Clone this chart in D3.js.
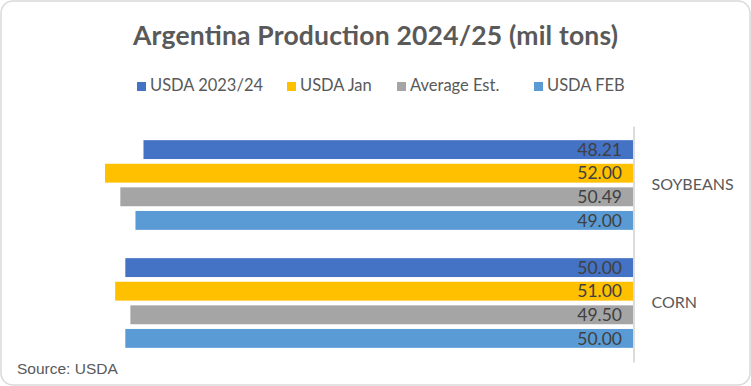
<!DOCTYPE html>
<html>
<head>
<meta charset="utf-8">
<script src="https://cdn.jsdelivr.net/npm/d3@7"></script>
<style>
  body { margin: 0; background: #fff; }
  svg { display: block; font-family: Lato, "Open Sans", sans-serif; }
</style>
</head>
<body>
<div id="chart"></div>
<script>
// Chart data
const categories = ['SOYBEANS', 'CORN'];
const seriesNames = ['USDA 2023/24', 'USDA Jan', 'Average Est.', 'USDA FEB'];
const seriesColors = ['#4472C4', '#FFC000', '#A5A5A5', '#5B9BD5'];
const soybeanValues = [48.21, 52.00, 50.49, 49.00];
const cornValues = [50.00, 51.00, 49.50, 50.00];
const valuesByCategory = [soybeanValues, cornValues];

const W = 751, H = 386;
const PLOT = { LEFT: 105, RIGHT: 633, TOP: 126, BOTTOM: 362 };

const svg = d3.select('#chart')
  .append('svg')
  .attr('width', W)
  .attr('height', H);

// Outer frame
svg.append('rect')
  .attr('x', 1).attr('y', 1)
  .attr('width', W - 2).attr('height', H - 2)
  .attr('rx', 12)
  .attr('fill', '#fff')
  .attr('stroke', '#d9d9d9')
  .attr('stroke-width', 1.5);

// Title
svg.append('text')
  .attr('x', 375.5)
  .attr('y', 45)
  .attr('text-anchor', 'middle')
  .attr('font-size', 26.5)
  .attr('font-weight', 'bold')
  .attr('fill', '#595959')
  .attr('textLength', 485)
  .attr('lengthAdjust', 'spacing')
  .text('Argentina Production 2024/25 (mil tons)');

// Legend
const legendX = [137, 287, 397, 534];
const legend = svg.append('g');
seriesNames.forEach(function(name, i) {
  legend.append('rect')
    .attr('x', legendX[i])
    .attr('y', 82)
    .attr('width', 9)
    .attr('height', 9)
    .attr('fill', seriesColors[i]);
  legend.append('text')
    .attr('x', legendX[i] + 13)
    .attr('y', 91)
    .attr('font-size', 16.5)
    .attr('fill', '#595959')
    .text(name);
});

// Scales: bars grow leftwards from the axis on the right
const x = d3.scaleLinear()
  .domain([0, 52])
  .range([PLOT.RIGHT, PLOT.LEFT]);

const y0 = d3.scaleBand()
  .domain(categories)
  .range([PLOT.TOP, PLOT.BOTTOM])
  .paddingInner(0.24)
  .paddingOuter(0.12);

const y1 = d3.scaleBand()
  .domain(d3.range(seriesNames.length))
  .range([0, y0.bandwidth()])
  .paddingInner(0.2);

const groups = svg.append('g')
  .selectAll('g')
  .data(categories)
  .enter()
  .append('g')
  .attr('transform', d => `translate(0, ${y0(d)})`);

groups.selectAll('rect')
  .data((d, i) => valuesByCategory[i])
  .enter()
  .append('rect')
  .attr('x', d => x(d))
  .attr('y', (d, i) => y1(i))
  .attr('width', d => x(0) - x(d))
  .attr('height', y1.bandwidth())
  .attr('fill', (d, i) => seriesColors[i]);

// Value labels inside the bar ends
groups.selectAll('text')
  .data((d, i) => valuesByCategory[i])
  .enter()
  .append('text')
  .attr('x', x(0) - 11)
  .attr('y', (d, i) => y1(i) + y1.bandwidth() / 2)
  .attr('dy', '0.36em')
  .attr('text-anchor', 'end')
  .attr('font-size', 17.5)
  .attr('fill', '#404040')
  .text(d => d3.format('.2f')(d));

// Category axis on the right
const yAxis = svg.append('g')
  .attr('transform', `translate(${PLOT.RIGHT + 0.5}, 0)`)
  .call(d3.axisRight(y0).tickSize(0).tickPadding(18));

yAxis.select('.domain')
  .attr('stroke', '#d0d0d0')
  .attr('stroke-width', 1.5);

yAxis.selectAll('text')
  .attr('font-family', 'Lato, sans-serif')
  .attr('font-size', 16)
  .attr('fill', '#595959');

// Source note
svg.append('text')
  .attr('x', 17)
  .attr('y', 374)
  .attr('font-family', '"Liberation Sans", Arial, sans-serif')
  .attr('font-size', 15.5)
  .attr('fill', '#595959')
  .text('Source: USDA');
</script>
</body>
</html>
